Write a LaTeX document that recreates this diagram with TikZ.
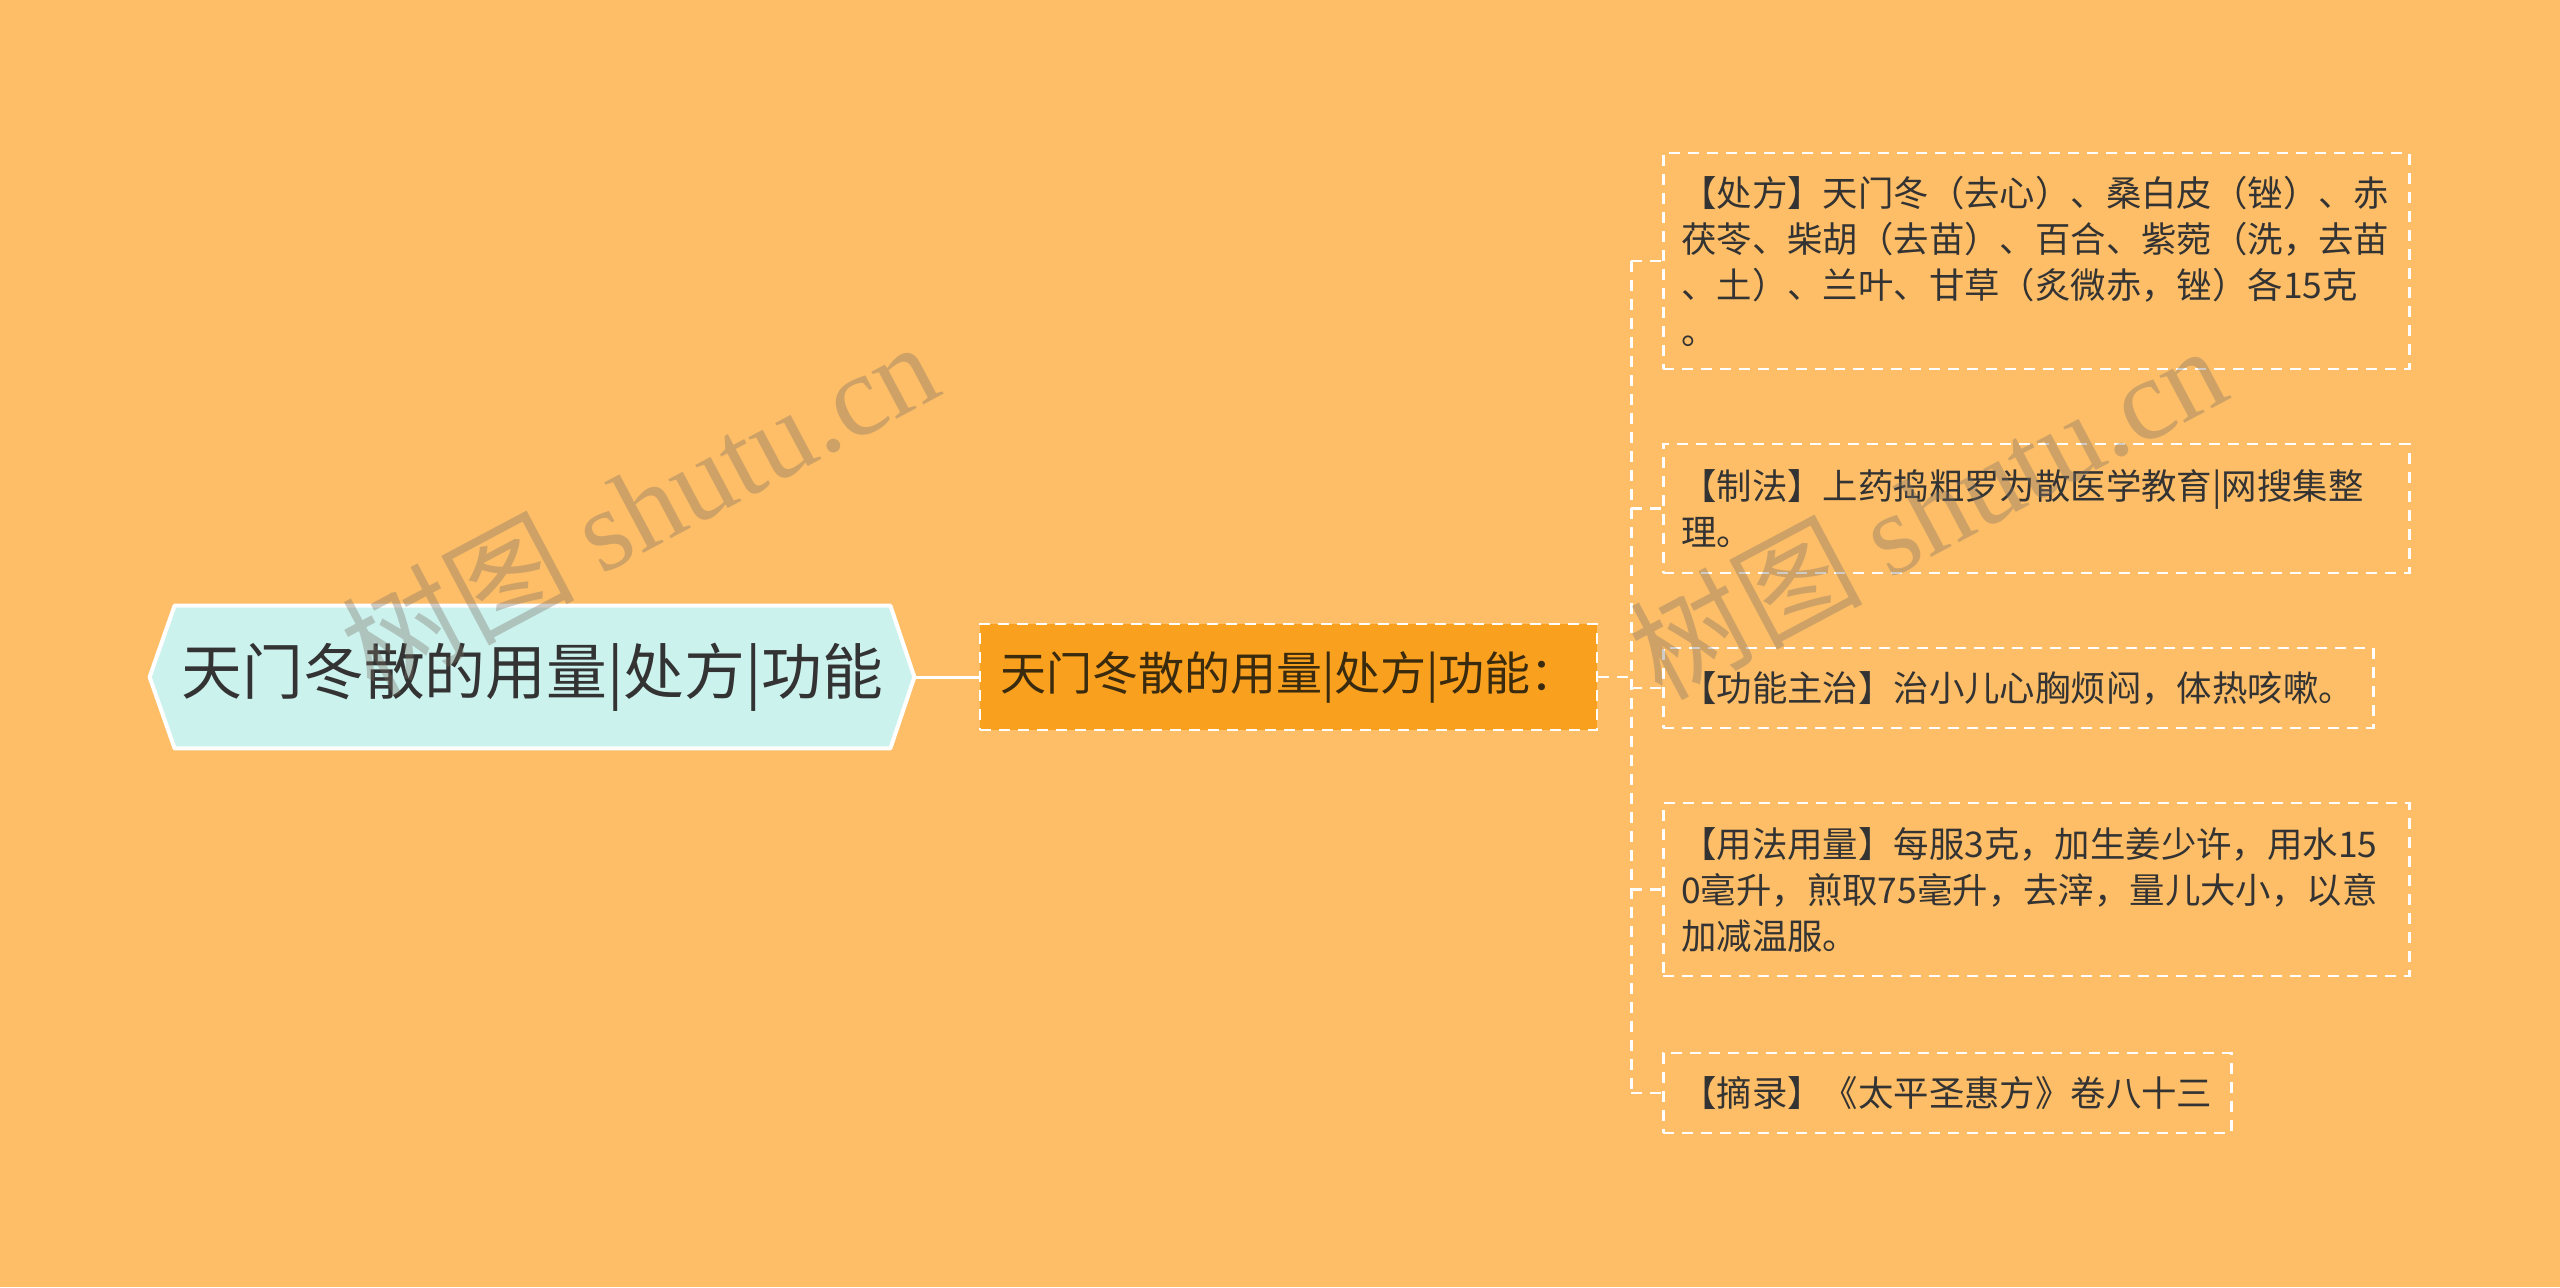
\documentclass[tikz,border=0pt]{standalone}
\usepackage{fontspec}
\setmainfont{Noto Sans CJK SC}
\newfontfamily\wmcjk{Noto Sans CJK SC}
\newfontfamily\wmserif{Liberation Serif}
\usetikzlibrary{calc,backgrounds}
\definecolor{bgcol}{HTML}{FEBE67}
\definecolor{rootfill}{HTML}{CCF2EE}
\definecolor{midfill}{HTML}{F9A11F}
\definecolor{txt}{HTML}{333333}
\definecolor{midtxt}{HTML}{3A2A0E}
\definecolor{wmcol}{HTML}{7A7066}
\tikzset{
  dashline/.style={draw=white, line width=1.3pt, dash pattern=on 5.5pt off 4pt},
  rootnode/.style={minimum width=357.5pt, minimum height=71pt, inner sep=0pt, text=txt, font=\fontsize{30.4pt}{36pt}\selectfont},
  midbox/.style={dashline, fill=midfill, minimum width=308.5pt, minimum height=53pt, inner sep=0pt, text=midtxt, font=\fontsize{23pt}{28pt}\selectfont},
  childbox/.style={dashline, anchor=west, align=left, inner xsep=9pt, inner ysep=0pt, text=txt, font=\fontsize{17.7pt}{23pt}\selectfont},
  wm/.style={text=wmcol, opacity=0.36, rotate=28, inner sep=0pt}
}
\begin{document}
\begin{tikzpicture}[x=0.5pt,y=-0.5pt]
\useasboundingbox (0,0) rectangle (2560,1287);
% root
\node[rootnode] (root) at (532.5,677) {天门冬散的用量|处方|功能};
\begin{scope}[on background layer]
  \fill[bgcol] (0,0) rectangle (2560,1287);
  \path[fill=rootfill, draw=white, line width=2pt, line join=round]
    (root.north west) -- (root.north east) -- ($(root.east)+(24,0)$) --
    (root.south east) -- (root.south west) -- ($(root.west)+(-25,0)$) -- cycle;
\end{scope}
% middle
\node[midbox] (mid) at (1288.5,677) {天门冬散的用量|处方|功能：};
\coordinate (rootR) at ($(root.east)+(24,0)$);
\draw[white, line width=1.5pt] (rootR) -- (mid.west);
% children
\node[childbox, text width=355pt, minimum height=108pt] (c1) at (1662,261)
  {【处方】天门冬（去心）、桑白皮（锉）、赤\\茯苓、柴胡（去苗）、百合、紫菀（洗，去苗\\、土）、兰叶、甘草（炙微赤，锉）各15克\\。};
\node[childbox, text width=355pt, minimum height=64.5pt] (c2) at (1662,508.5)
  {【制法】上药捣粗罗为散医学教育|网搜集整\\理。};
\node[childbox, text width=337pt, minimum height=40pt] (c3) at (1662,688)
  {【功能主治】治小儿心胸烦闷，体热咳嗽。};
\node[childbox, text width=355pt, minimum height=86.5pt] (c4) at (1662,889.5)
  {【用法用量】每服3克，加生姜少许，用水15\\0毫升，煎取75毫升，去滓，量儿大小，以意\\加减温服。};
\node[childbox, text width=266pt, minimum height=40pt] (c5) at (1662,1093)
  {【摘录】《太平圣惠方》卷八十三};
% connectors
\coordinate (tr) at ($(mid.east)+(33,0)$);
\draw[dashline] (mid.east) -- (tr);
\draw[dashline] (tr |- c1.west) -- (tr |- c5.west);
\foreach \c in {c1,c2,c3,c4,c5}
  \draw[dashline] (tr |- \c.west) -- (\c.west);
% watermarks
\node[wm] at (639,506) {\fontsize{58pt}{60pt}\wmcjk 树图 \wmserif shutu.cn};
\node[wm] at (1927,510) {\fontsize{58pt}{60pt}\wmcjk 树图 \wmserif shutu.cn};
\end{tikzpicture}
\end{document}
